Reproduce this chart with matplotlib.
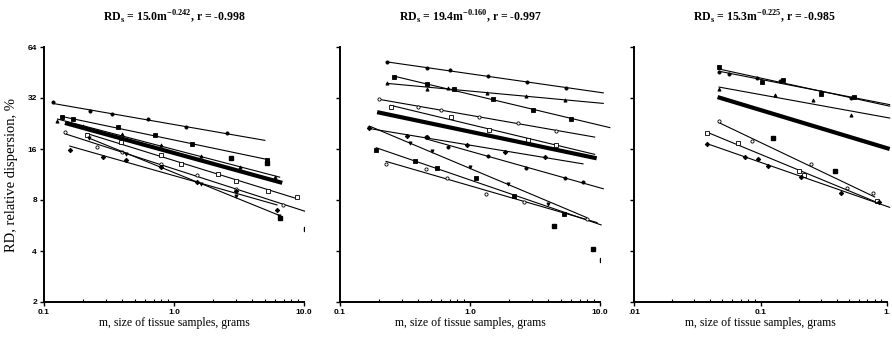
import numpy as np
import matplotlib.pyplot as plt
from matplotlib.ticker import FixedLocator, LogLocator, NullFormatter

plt.rcParams['mathtext.fontset'] = 'custom'
plt.rcParams['mathtext.rm'] = 'Liberation Serif'
plt.rcParams['mathtext.bf'] = 'Liberation Serif:bold'

# panel 1 (m from 0.1 to 10 g)
p1_m = [
    [0.117, 0.226, 0.331, 0.635, 1.24, 2.54],
    [0.137, 0.166, 0.371, 0.715, 1.37, 5.2],
    [0.127, 0.2, 0.4, 0.8, 1.6, 3.2, 6.0],
    [0.145, 0.257, 0.396, 0.8, 1.5, 3.0, 6.9],
    [0.213, 0.39, 0.8, 1.14, 2.17, 3.02, 5.3, 8.8],
    [0.158, 0.283, 0.428, 0.8, 1.5, 3.02, 6.2],
    [0.22, 0.43, 0.8, 1.6, 3.0, 6.4],
]
p1_rd = [
    [30.2, 26.8, 25.6, 23.9, 21.6, 19.8],
    [24.6, 24.0, 21.6, 19.3, 17.1, 13.8],
    [23.5, 22.0, 19.5, 16.8, 14.5, 12.5, 11.0],
    [20.1, 16.5, 15.3, 13.0, 11.2, 9.3, 7.5],
    [19.3, 17.5, 14.8, 13.1, 11.4, 10.4, 9.0, 8.3],
    [15.8, 14.4, 13.8, 12.5, 10.2, 9.1, 7.0],
    [18.5, 15.0, 12.6, 10.0, 8.4, 6.4],
]
p1_reach = [5.0, 5.4, 6.5, 10.1, 8.8, 6.2, 6.4]
p1_extra_m = [2.75, 5.2, 6.5, 10.4]
p1_extra_rd = [14.1, 13.3, 6.3, 5.4]
p1_mean_m = [0.145, 6.8]
p1_mean_rd = [22.8, 10.1]

# panel 2
p2_m = [
    [0.23, 0.47, 0.70, 1.38, 2.75, 5.5],
    [0.26, 0.47, 0.75, 1.5, 3.07, 6.0, 10.8],
    [0.23, 0.465, 0.68, 1.36, 2.68, 5.4],
    [0.2, 0.4, 0.6, 1.18, 2.36, 4.6],
    [0.245, 0.72, 1.4, 2.8, 4.6],
    [0.168, 0.33, 0.47, 0.94, 1.86, 3.78],
    [0.168, 0.345, 0.51, 1.0, 1.97, 4.0],
    [0.46, 0.68, 1.38, 2.7, 5.4, 7.4],
    [0.19, 0.38, 0.56, 1.11, 2.18, 5.3],
    [0.226, 0.46, 0.67, 1.33, 2.6, 7.9],
]
p2_rd = [
    [52, 48, 46.6, 43.3, 40, 36.5],
    [42.7, 38.5, 36, 31.6, 27.2, 24, 21.9],
    [39.4, 36, 36.9, 34.4, 32.9, 31.1],
    [31.6, 28.2, 27.2, 24.8, 22.9, 20.4],
    [28.4, 24.8, 20.8, 18.1, 17.0],
    [21.2, 19.2, 18.8, 17.0, 15.3, 14.4],
    [21.2, 17.4, 15.6, 12.6, 10.0, 7.6],
    [18.8, 16.5, 14.5, 12.3, 10.8, 10.2],
    [15.8, 13.6, 12.3, 10.8, 8.5, 6.6],
    [13.1, 12.2, 10.8, 8.7, 7.8, 6.2],
]
p2_reach = [10.6, 11.9, 10.6, 9.1, 9.1, 7.4, 7.9, 10.6, 10.2, 9.5]
p2_extra_m = [4.4, 8.8, 10.4, 11.2, 11.9, 11.0, 11.0]
p2_extra_rd = [5.6, 4.1, 3.56, 13.2, 16.9, 8.3, 26.0]
p2_mean_m = [0.193, 9.43]
p2_mean_rd = [26.4, 14.1]

# panel 3
p3_m = [
    [0.047, 0.056, 0.094, 0.142, 0.30, 0.52],
    [0.047, 0.103, 0.15, 0.30, 0.55],
    [0.047, 0.13, 0.26, 0.52],
    [0.047, 0.086, 0.25, 0.48, 0.77],
    [0.038, 0.067, 0.2, 0.22, 0.84],
    [0.038, 0.076, 0.096, 0.114, 0.21, 0.43, 0.87],
]
p3_rd = [
    [45.5, 44.3, 42.2, 40.4, 34.6, 32.2],
    [48.5, 39.6, 41.0, 34.0, 32.5],
    [36.0, 33.2, 31.1, 25.5],
    [23.4, 17.9, 13.0, 9.4, 8.8],
    [20.0, 17.4, 11.8, 11.3, 7.9],
    [17.1, 14.4, 13.9, 12.7, 11.0, 8.8, 7.8],
]
p3_reach = [1.05, 1.05, 1.05, 0.8, 0.86, 1.05]
p3_extra_m = [0.125, 0.39]
p3_extra_rd = [18.7, 11.8]
p3_mean_m = [0.0458, 1.05]
p3_mean_rd = [32.4, 16.0]

titles = [
    r'RD$_{\mathbf{s}}$ = 15.0m$^{\mathbf{-0.242}}$, r = -0.998',
    r'RD$_{\mathbf{s}}$ = 19.4m$^{\mathbf{-0.160}}$, r = -0.997',
    r'RD$_{\mathbf{s}}$ = 15.3m$^{\mathbf{-0.225}}$, r = -0.985',
]
xticks = [[0.1, 1.0, 10.0], [0.1, 1.0, 10.0], [0.01, 0.1, 1.0]]
xticklabels = [['0.1', '1.0', '10.0'], ['0.1', '1.0', '10.0'], ['.01', '0.1', '1.']]
yticks = [2, 4, 8, 16, 32, 64]

markers = [('o', True), ('s', True), ('^', True), ('o', False), ('s', False), ('D', True),
           ('v', True), ('o', True), ('s', True), ('o', False)]

fig = plt.figure(figsize=(8.92, 3.37), dpi=100)
W, H = 892, 337
lefts = [44, 340, 634]
widths = [260, 260, 253]

panels = [
    (p1_m, p1_rd, p1_reach, p1_extra_m, p1_extra_rd, p1_mean_m, p1_mean_rd),
    (p2_m, p2_rd, p2_reach, p2_extra_m, p2_extra_rd, p2_mean_m, p2_mean_rd),
    (p3_m, p3_rd, p3_reach, p3_extra_m, p3_extra_rd, p3_mean_m, p3_mean_rd),
]

for i, (ms, rds, reach, em, erd, mm, mrd) in enumerate(panels):
    ax = fig.add_axes([lefts[i] / W, 1 - 302 / H, widths[i] / W, 255 / H])
    ax.set_xscale('log')
    ax.set_yscale('log', base=2)
    ax.set_xlim(xticks[i][0], xticks[i][-1])
    ax.set_ylim(2, 64)

    for k, (m, rd) in enumerate(zip(ms, rds)):
        # each group gets its own power-law fit, like the original figure
        b, a = np.polyfit(np.log(m), np.log(rd), 1)
        xx = np.array([min(m), reach[k]])
        ax.plot(xx, np.exp(a) * xx ** b, color='black', lw=0.8, clip_on=False)
        mk, filled = markers[k % len(markers)]
        ax.plot(m, rd, linestyle='none', marker=mk, ms=2.3,
                mfc='black' if filled else 'white', mec='black', mew=0.6)
    ax.plot(em, erd, linestyle='none', marker='s', ms=2.2, color='black')
    ax.plot(mm, mrd, color='black', lw=3, solid_capstyle='butt', clip_on=False)

    for s in ['top', 'right']:
        ax.spines[s].set_visible(False)
    for s in ['left', 'bottom']:
        ax.spines[s].set_linewidth(1.4)

    ax.xaxis.set_major_locator(FixedLocator(xticks[i]))
    ax.set_xticklabels(xticklabels[i], fontsize=6, fontweight='bold', family='Liberation Sans')
    ax.xaxis.set_minor_locator(LogLocator(base=10, subs=np.arange(2, 10)))
    ax.xaxis.set_minor_formatter(NullFormatter())
    ax.yaxis.set_major_locator(FixedLocator(yticks))
    ax.yaxis.set_minor_locator(FixedLocator([]))
    if i == 0:
        ax.set_yticklabels([str(v) for v in yticks], fontsize=6, fontweight='bold',
                           family='Liberation Sans')
        ax.set_ylabel('RD, relative dispersion, %', family='Liberation Serif',
                      fontsize=10.5, labelpad=7)
    else:
        ax.set_yticklabels([])
    ax.tick_params(axis='both', which='major', direction='out', length=3, width=1, pad=2)
    ax.tick_params(axis='x', which='minor', direction='in', length=2.5, width=0.8)
    ax.set_xlabel('m, size of tissue samples, grams', family='Liberation Serif',
                  fontsize=8.5, labelpad=1)
    fig.text((lefts[i] + 130) / W, 1 - 17 / H, titles[i], ha='center', va='center',
             family='Liberation Serif', fontweight='bold', fontsize=8.5)

fig.savefig('out.png', dpi=100)
